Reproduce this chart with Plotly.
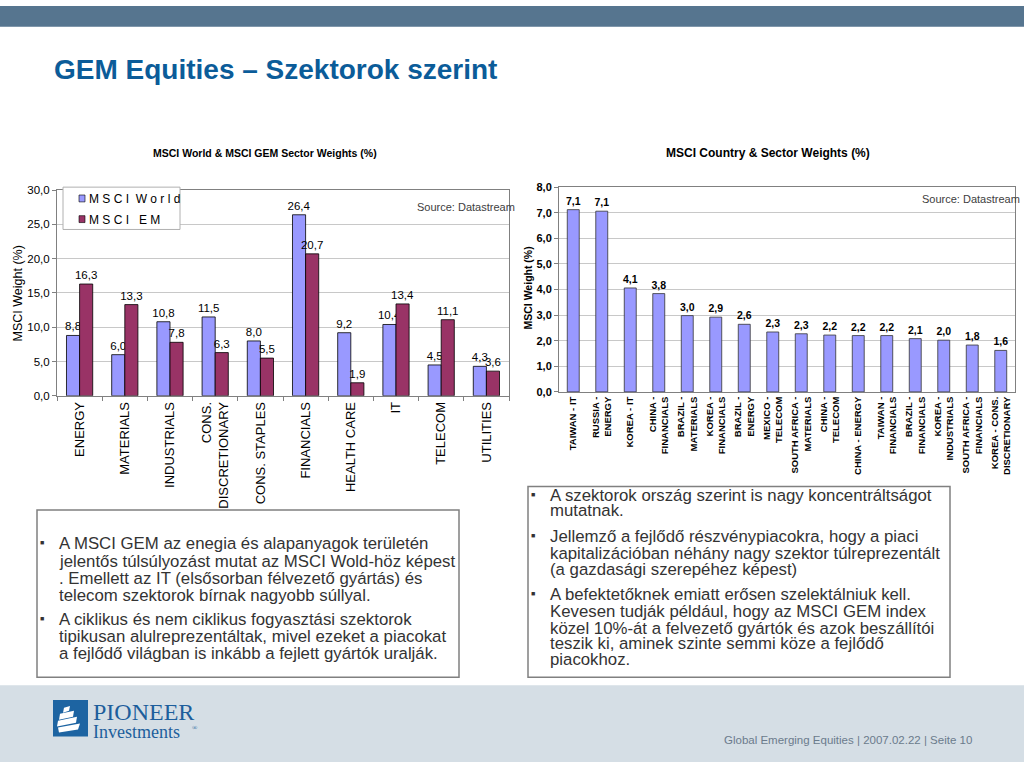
import plotly.graph_objects as go

# ---------------- data ----------------
sectors = ["ENERGY", "MATERIALS", "INDUSTRIALS", "CONS.<br>DISCRETIONARY", "CONS. STAPLES",
           "FINANCIALS", "HEALTH CARE", "IT", "TELECOM", "UTILITIES"]
msci_world = [8.8, 6.0, 10.8, 11.5, 8.0, 26.4, 9.2, 10.4, 4.5, 4.3]
msci_em = [16.3, 13.3, 7.8, 6.3, 5.5, 20.7, 1.9, 13.4, 11.1, 3.6]

country_sectors = ["TAIWAN - IT", "RUSSIA -<br>ENERGY", "KOREA - IT", "CHINA -<br>FINANCIALS",
                   "BRAZIL -<br>MATERIALS", "KOREA -<br>FINANCIALS", "BRAZIL -<br>ENERGY",
                   "MEXICO -<br>TELECOM", "SOUTH AFRICA -<br>MATERIALS", "CHINA -<br>TELECOM",
                   "CHINA - ENERGY", "TAIWAN -<br>FINANCIALS", "BRAZIL -<br>FINANCIALS",
                   "KOREA -<br>INDUSTRIALS", "SOUTH AFRICA -<br>FINANCIALS", "KOREA - CONS.<br>DISCRETIONARY"]
country_weights = [7.12, 7.06, 4.06, 3.84, 2.98, 2.92, 2.64, 2.34, 2.27, 2.22, 2.2, 2.2, 2.08, 2.02, 1.83, 1.62]

left_lines = [
    ("A MSCI GEM az enegia és alapanyagok területén", True),
    ("jelentős túlsúlyozást mutat az MSCI Wold-höz képest", False),
    (". Emellett az IT (elsősorban félvezető gyártás) és", False),
    ("telecom szektorok bírnak nagyobb súllyal.", False),
    ("A ciklikus és nem ciklikus fogyasztási szektorok", True),
    ("tipikusan alulreprezentáltak, mivel ezeket a piacokat", False),
    ("a fejlődő világban is inkább a fejlett gyártók uralják.", False),
]
right_lines = [
    ("A szektorok ország szerint is nagy koncentráltságot", True),
    ("mutatnak.", False),
    ("Jellemző a fejlődő részvénypiacokra, hogy a piaci", True),
    ("kapitalizációban néhány nagy szektor túlreprezentált", False),
    ("(a gazdasági szerepéhez képest)", False),
    ("A befektetőknek emiatt erősen szelektálniuk kell.", True),
    ("Kevesen tudják például, hogy az MSCI GEM index", False),
    ("közel 10%-át a felvezető gyártók és azok beszállítói", False),
    ("teszik ki, aminek szinte semmi köze a fejlődő", False),
    ("piacokhoz.", False),
]

W, H = 1024, 768
SANS = "Liberation Sans, Arial, sans-serif"
SERIF = "Liberation Serif, Times New Roman, serif"


def px(x):
    return x / W


def py(y):
    return 1 - y / H


fig = go.Figure()

fig.add_trace(go.Bar(x=sectors, y=msci_world, name="MSCI World", xaxis="x", yaxis="y",
                     marker=dict(color="#9999FF", line=dict(color="#000000", width=0.8)),
                     texttemplate="%{y:.1f}", textposition="outside", constraintext="none",
                     cliponaxis=False, showlegend=False,
                     textfont=dict(family=SANS, size=11.5, color="#000000")))
fig.add_trace(go.Bar(x=sectors, y=msci_em, name="MSCI EM", xaxis="x", yaxis="y",
                     marker=dict(color="#993366", line=dict(color="#000000", width=0.8)),
                     texttemplate="%{y:.1f}", textposition="outside", constraintext="none",
                     cliponaxis=False, showlegend=False,
                     textfont=dict(family=SANS, size=11.5, color="#000000")))
fig.add_trace(go.Bar(x=country_sectors, y=country_weights, xaxis="x2", yaxis="y2",
                     marker=dict(color="#9999FF", line=dict(color="#333333", width=0.8)),
                     texttemplate="%{y:.1f}", textposition="outside", constraintext="none",
                     cliponaxis=False, showlegend=False,
                     textfont=dict(family=SANS, size=10.5, color="#000000", weight="bold")))

shapes = []
annotations = []


def rect(x0, y0, x1, y1, fill=None, line=None, lw=1.0, layer="below"):
    shapes.append(dict(type="rect", xref="paper", yref="paper",
                       x0=px(x0), x1=px(x1), y0=py(y1), y1=py(y0),
                       fillcolor=fill if fill else "rgba(0,0,0,0)",
                       line=dict(color=line if line else "rgba(0,0,0,0)", width=lw if line else 0),
                       layer=layer))


def text(s, x, y, size, color="#000000", family=SANS, xanchor="left", yanchor="middle",
         bold=False, angle=0):
    annotations.append(dict(text=s, x=px(x), y=py(y), xref="paper", yref="paper",
                            xanchor=xanchor, yanchor=yanchor, showarrow=False, textangle=angle,
                            font=dict(family=family, size=size, color=color,
                                      weight="bold" if bold else "normal")))


# header / footer
rect(0, 0, 1024, 21, fill="#56758F")
rect(0, 690, 1024, 768, fill="#D5DEE5")
text("GEM Equities – Szektorok szerint", 52, 64, 28, color="#0B5C99", bold=True)
text("Global Emerging Equities | 2007.02.22 | Seite 10", 974, 746, 11.5, color="#6B7B8C",
     xanchor="right")

# logo
rect(53, 705, 88, 742, fill="#1D64A2", layer="above")
sails = [
    [(64, 713), (70, 711), (69, 716), (63, 718)],
    [(60, 719), (74, 716), (73, 722), (59, 725)],
    [(58, 726), (77, 722), (76, 728), (57, 732)],
    [(58, 733), (80, 729), (78, 735), (59, 738)],
]
for poly in sails:
    d = "M " + " L ".join(f"{px(a)},{py(b)}" for a, b in poly) + " Z"
    shapes.append(dict(type="path", xref="paper", yref="paper", path=d,
                       fillcolor="#FFFFFF", line=dict(width=0), layer="above"))
text("PIONEER", 91, 717, 24, color="#1D5E9C", family=SERIF)
text("Investments", 91, 738, 18, color="#1D5E9C", family=SERIF)
text("®", 190, 733, 7, color="#1D5E9C", family=SERIF)

# chart titles
text("MSCI World &amp; MSCI GEM Sector Weights (%)", 265, 149, 10.5, bold=True,
     xanchor="center")
text("MSCI Country &amp; Sector Weights (%)", 768, 149, 12, bold=True, xanchor="center")
text("MSCI Weight (%)", 18, 292, 12.5, angle=-90, xanchor="center")
text("MSCI Weight (%)", 528, 287, 10.5, angle=-90, xanchor="center", bold=True)
text("Source: Datastream", 517, 204, 11, color="#404040", xanchor="right")
text("Source: Datastream", 1022, 196, 11, color="#404040", xanchor="right")

# manual legend (left chart)
rect(63, 184, 180, 227, fill="#FFFFFF", line="#B0B0B0", lw=1, layer="above")
rect(79, 192, 85, 199, fill="#9999FF", line="#000000", lw=0.6, layer="above")
rect(79, 213, 85, 220, fill="#993366", line="#000000", lw=0.6, layer="above")
nb = "\u00a0"
text(nb.join("MSCI") + nb * 2 + nb.join("World"), 87, 196, 12)
text(nb.join("MSCI") + nb * 3 + nb.join("EM"), 87, 217, 12)

# text boxes
rect(37, 512, 459, 682, line="#808080", lw=1.5)
rect(528, 488, 950, 682, line="#808080", lw=1.5)
ly = [546, 564, 582, 599, 623, 641, 658]
for (s, bullet), yy in zip(left_lines, ly):
    text(s, 57, yy, 16.8, color="#333333")
    if bullet:
        text("■", 38, yy - 1, 7, color="#333333")
ry = [497, 513, 539, 556, 572, 598, 615, 632, 648, 664]
for (s, bullet), yy in zip(right_lines, ry):
    text(s, 548, yy, 16.8, color="#333333")
    if bullet:
        text("■", 529, yy - 1, 7, color="#333333")

fig.update_layout(
    width=W, height=H, margin=dict(l=0, r=0, t=0, b=0),
    paper_bgcolor="#FFFFFF", plot_bgcolor="#FFFFFF",
    separators=",.", barmode="group", showlegend=False,
    shapes=shapes, annotations=annotations,
    xaxis=dict(domain=[px(57), px(509)], anchor="y", type="category", tickangle=-90,
               tickfont=dict(family=SANS, size=13, color="#000000"),
               showline=True, linecolor="#808080", mirror=True, ticks="outside",
               tickson="boundaries", ticklen=4, tickcolor="#808080", showgrid=False),
    yaxis=dict(domain=[py(396), py(187)], anchor="x", range=[0, 30], dtick=5, tickformat=".1f",
               tickfont=dict(family=SANS, size=11.5, color="#000000"),
               showgrid=True, gridcolor="#C8C8C8", showline=True, linecolor="#808080",
               mirror=True, ticks="outside", ticklen=4, tickcolor="#808080", zeroline=False),
    xaxis2=dict(domain=[px(559), px(1015)], anchor="y2", type="category", tickangle=-90,
                tickfont=dict(family=SANS, size=9.5, color="#000000", weight="bold"),
                showline=True, linecolor="#808080", mirror=True, ticks="", showgrid=False),
    yaxis2=dict(domain=[py(392), py(184)], anchor="x2", range=[0, 8], dtick=1, tickformat=".1f",
                tickfont=dict(family=SANS, size=11, color="#000000", weight="bold"),
                showgrid=True, gridcolor="#C8C8C8", showline=True, linecolor="#808080",
                mirror=True, ticks="outside", ticklen=4, tickcolor="#808080", zeroline=False),
    bargap=0.42, bargroupgap=0,
)
fig.update_traces(selector=dict(xaxis="x2"), width=0.42)

fig.write_html("out.html", config={"displayModeBar": False},
               post_script="document.body.style.margin='0';")
